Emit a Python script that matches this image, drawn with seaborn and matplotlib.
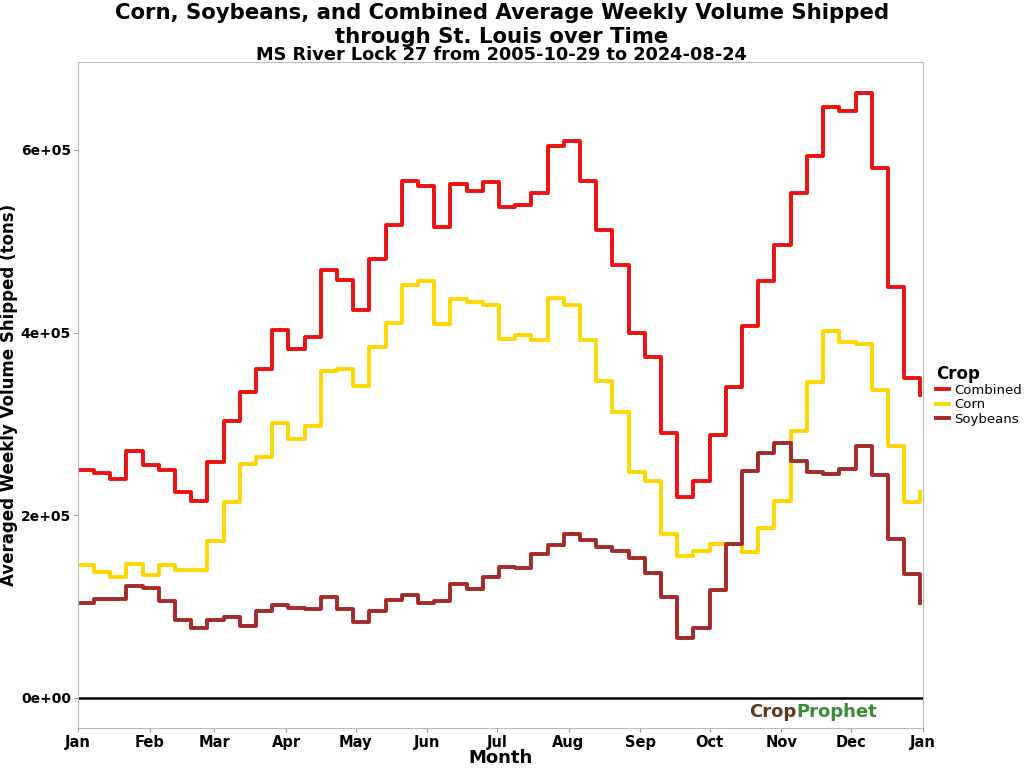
import numpy as np
import pandas as pd
import matplotlib
matplotlib.use('Agg')
import matplotlib.pyplot as plt
import matplotlib.dates as mdates
import seaborn as sns

# weekly averages, thousands of tons
combined = [250, 246, 240, 270, 255, 250, 225, 216, 258, 303,
            335, 360, 403, 382, 395, 469, 458, 425, 480, 518,
            566, 560, 516, 563, 555, 565, 537, 540, 553, 604,
            610, 566, 512, 474, 400, 373, 290, 220, 238, 288,
            340, 407, 456, 496, 553, 593, 647, 643, 662, 580,
            450, 350, 332]
corn = [146, 138, 132, 147, 135, 145, 140, 140, 172, 214,
        256, 264, 301, 283, 298, 358, 360, 342, 384, 410,
        452, 456, 409, 437, 434, 430, 393, 397, 392, 438,
        430, 392, 347, 313, 247, 237, 180, 155, 161, 168,
        168, 160, 186, 216, 292, 346, 402, 390, 387, 337,
        276, 215, 225]
soy = [104, 108, 108, 123, 120, 106, 85, 77, 85, 89,
       79, 95, 102, 98, 97, 110, 97, 83, 95, 107,
       113, 104, 106, 125, 119, 132, 143, 142, 158, 167,
       180, 173, 165, 161, 153, 137, 111, 66, 77, 118,
       168, 248, 268, 279, 259, 247, 245, 251, 276, 244,
       174, 136, 104]
crops = ['Combined', 'Corn', 'Soybeans']
colors = ['#EE1111', '#FFD700', '#A52A2A']

dates = list(pd.Timestamp('2001-01-01') + pd.to_timedelta(np.arange(52) * 7, unit='D'))
dates.append(pd.Timestamp('2001-12-31'))
rows = []
for c, vals in zip(crops, [combined, corn, soy]):
    for d, v in zip(dates, vals):
        rows.append({'Month': d, 'Volume': v * 1000, 'Crop': c})
df = pd.DataFrame(rows)

fig = plt.figure(figsize=(10.24, 7.68), dpi=100)
ax = fig.add_axes([0.076, 0.052, 0.825, 0.867])
sns.lineplot(data=df, x='Month', y='Volume', hue='Crop', palette=colors,
             drawstyle='steps-post', lw=2.8, ax=ax)
ax.axhline(0, color='black', lw=1.8)
ax.set_xlim(pd.Timestamp('2001-01-01'), pd.Timestamp('2002-01-01'))
ax.set_ylim(-33000, 696000)
ax.set_yticks([0, 200000, 400000, 600000])
ax.set_yticklabels(['0e+00', '2e+05', '4e+05', '6e+05'])
ax.xaxis.set_major_locator(mdates.MonthLocator())
ax.xaxis.set_major_formatter(mdates.DateFormatter('%b'))
ax.tick_params(labelsize=10.5, length=3, color='#999999', pad=2)
ax.tick_params(axis='y', labelsize=10)
for t in ax.get_xticklabels() + ax.get_yticklabels():
    t.set_fontweight('bold')
for s in ax.spines.values():
    s.set_color('#bbbbbb')
ax.set_xlabel('Month', fontsize=13, fontweight='bold', labelpad=-1)
ax.set_ylabel('Averaged Weekly Volume Shipped (tons)', fontsize=12, fontweight='bold', labelpad=2)

fig.text(0.49, 0.983, 'Corn, Soybeans, and Combined Average Weekly Volume Shipped',
         ha='center', va='center', fontsize=15.3, fontweight='bold')
fig.text(0.49, 0.952, 'through St. Louis over Time',
         ha='center', va='center', fontsize=15.3, fontweight='bold')
fig.text(0.49, 0.929, 'MS River Lock 27 from 2005-10-29 to 2024-08-24',
         ha='center', va='center', fontsize=12.8, fontweight='bold')

leg = ax.legend(title='Crop', loc='center left', bbox_to_anchor=(1.0, 0.5),
                frameon=False, fontsize=9.5, handlelength=1.0, handletextpad=0.4,
                labelspacing=0.1, borderaxespad=0.6)
leg.get_title().set_fontweight('bold')
leg.get_title().set_fontsize(12)
leg._legend_box.align = 'left'

ax.text(0.85, 0.01, 'Crop', transform=ax.transAxes, fontsize=13, fontweight='bold',
        color='#5a3a1a', ha='right', va='bottom')
ax.text(0.85, 0.01, 'Prophet', transform=ax.transAxes, fontsize=13, fontweight='bold',
        color='#3d8b37', ha='left', va='bottom')

fig.savefig('out.png', dpi=100)
